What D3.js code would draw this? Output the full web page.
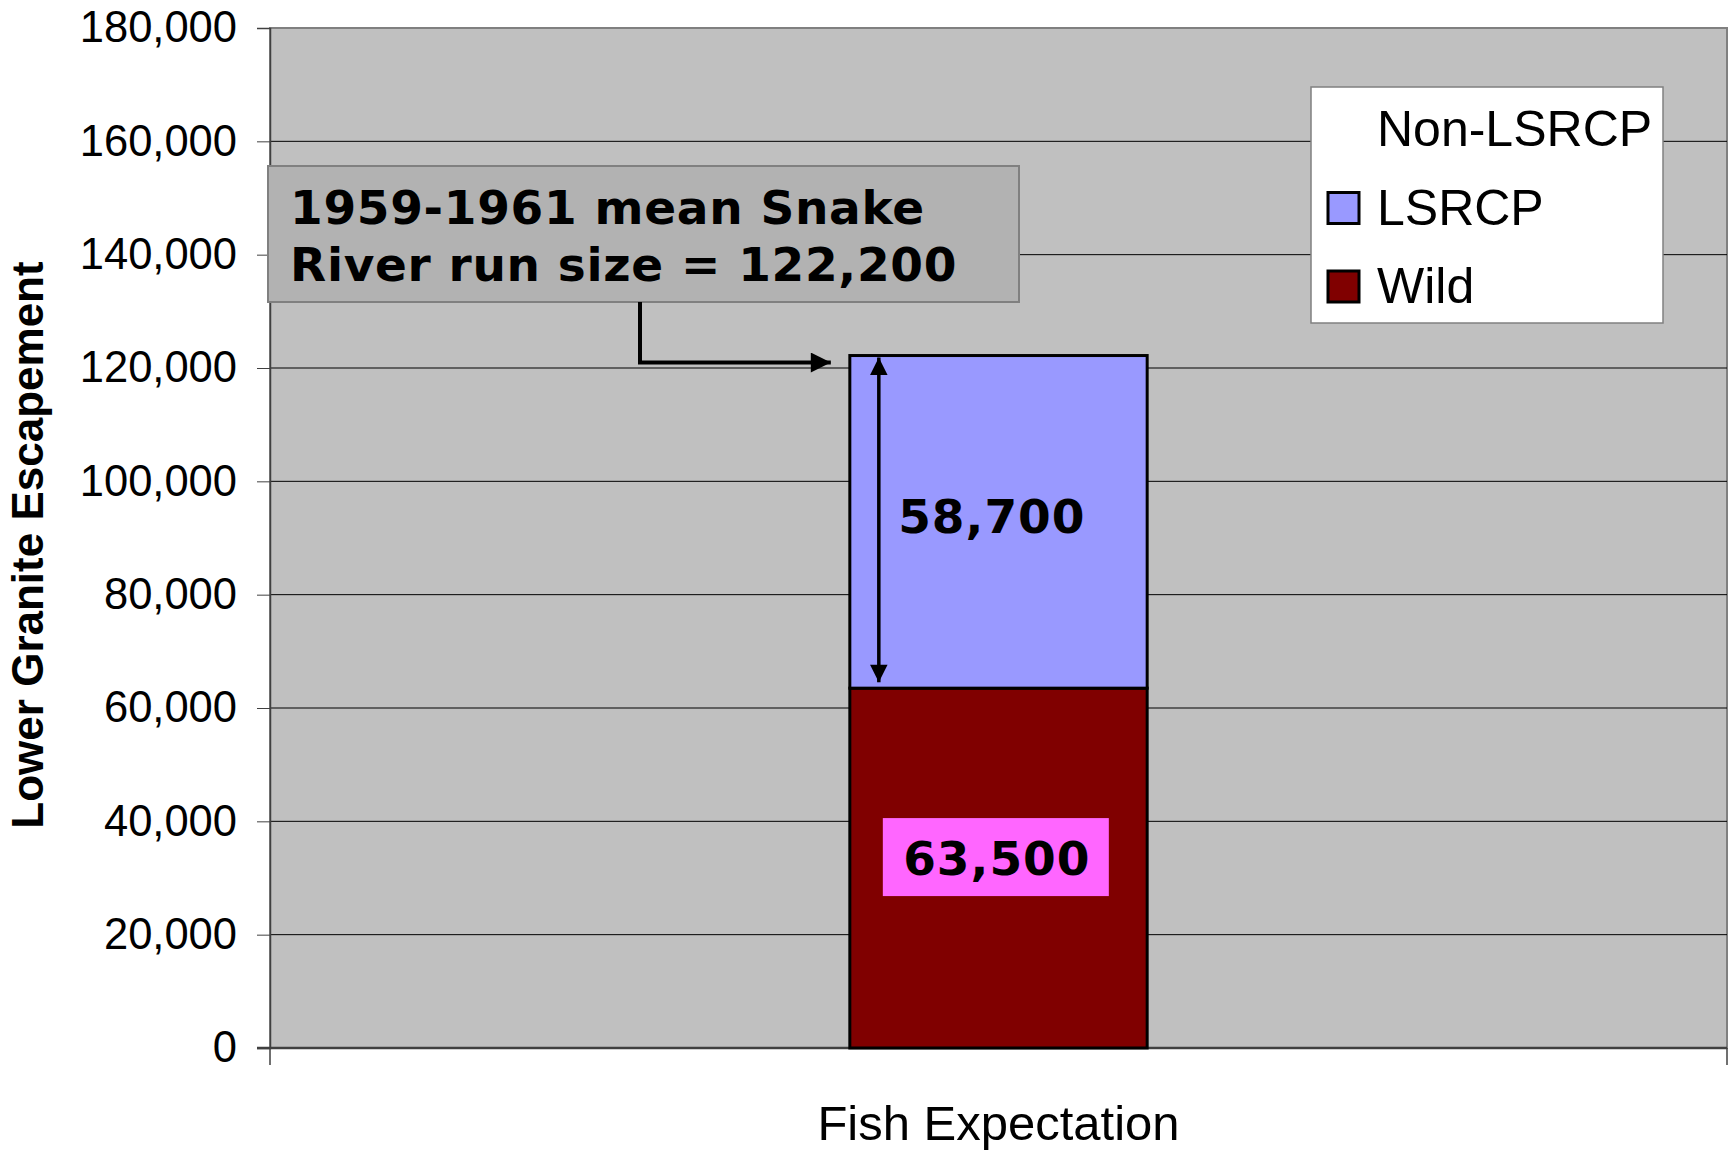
<!DOCTYPE html>
<html>
<head>
<meta charset="utf-8">
<script src="https://cdn.jsdelivr.net/npm/d3@7"></script>
<style>
  body { margin: 0; background: #fff; }
  svg { display: block; }
  .tick text { font-family: "Liberation Sans", Arial, sans-serif; }
</style>
</head>
<body>
<script>
// data
const categories = ["Fish Expectation"];
const seriesNames = ["Wild", "LSRCP", "Non-LSRCP"];
const seriesValues = [63500, 58700, 0];
const seriesColors = ["#800000", "#9999ff", "none"];
const yTicks = [0, 20000, 40000, 60000, 80000, 100000, 120000, 140000, 160000, 180000];
const runSize = 122200;
const calloutLines = ["1959-1961 mean Snake", "River run size = 122,200"];

const w = 1728, h = 1152;
const plotLeft = 270, plotRight = 1727, plotTop = 28, plotBottom = 1048;

const svg = d3.select("body").append("svg")
  .attr("width", w)
  .attr("height", h);

const x = d3.scaleBand()
  .domain(categories)
  .range([plotLeft, plotRight])
  .paddingOuter(1.95);

const y = d3.scaleLinear()
  .domain([0, 180000])
  .range([plotBottom, plotTop]);

// plot area
svg.append("rect")
  .attr("x", plotLeft).attr("y", plotTop)
  .attr("width", plotRight - plotLeft).attr("height", plotBottom - plotTop)
  .attr("fill", "#c0c0c0")
  .attr("stroke", "#808080")
  .attr("stroke-width", 2);

// gridlines
svg.append("g")
  .selectAll("line")
  .data(yTicks.filter(d => d > 0 && d < 180000))
  .enter()
  .append("line")
  .attr("x1", plotLeft).attr("x2", plotRight)
  .attr("y1", d => y(d)).attr("y2", d => y(d))
  .attr("stroke", "#000")
  .attr("stroke-width", 1);

// y axis
const y_axis = d3.axisLeft(y)
  .tickValues(yTicks)
  .tickFormat(d3.format(","))
  .tickSize(13)
  .tickPadding(20);

const gy = svg.append("g")
  .attr("transform", `translate(${plotLeft},0)`)
  .call(y_axis);
gy.select(".domain").attr("stroke", "#404040").attr("stroke-width", 1.5);
gy.selectAll(".tick line").attr("stroke", "#404040");
gy.selectAll(".tick text")
  .attr("font-size", 43.5)
  .attr("fill", "#000");

// bottom axis line and category-edge ticks
svg.append("line")
  .attr("x1", plotLeft - 13).attr("x2", plotRight)
  .attr("y1", plotBottom).attr("y2", plotBottom)
  .attr("stroke", "#404040").attr("stroke-width", 2.5);
svg.append("g")
  .selectAll("line")
  .data(x.range())
  .enter()
  .append("line")
  .attr("x1", d => d).attr("x2", d => d)
  .attr("y1", plotBottom).attr("y2", plotBottom + 17)
  .attr("stroke", "#404040").attr("stroke-width", 1.5);

// stacked bar
const row = { category: categories[0] };
seriesNames.forEach((s, i) => row[s] = seriesValues[i]);
const stacked = d3.stack().keys(seriesNames)([row]);

svg.append("g")
  .selectAll("rect")
  .data(stacked.filter(s => seriesColors[s.index] !== "none"))
  .enter()
  .append("rect")
  .attr("x", s => x(s[0].data.category))
  .attr("width", x.bandwidth())
  .attr("y", s => y(s[0][1]))
  .attr("height", s => y(s[0][0]) - y(s[0][1]))
  .attr("fill", s => seriesColors[s.index])
  .attr("stroke", "#000")
  .attr("stroke-width", 3);

const barX = x(categories[0]);
const wildTop = y(seriesValues[0]);
const barTop = y(runSize);

// arrow markers
const defs = svg.append("defs");
defs.append("marker")
  .attr("id", "head")
  .attr("viewBox", "0 0 10 10")
  .attr("refX", 10).attr("refY", 5)
  .attr("markerWidth", 5.5).attr("markerHeight", 5)
  .attr("markerUnits", "strokeWidth")
  .attr("orient", "auto-start-reverse")
  .append("path")
  .attr("d", "M0,0 L10,5 L0,10 Z")
  .attr("fill", "#000");

// double arrow across LSRCP segment
svg.append("line")
  .attr("x1", barX + 29).attr("x2", barX + 29)
  .attr("y1", barTop + 2).attr("y2", wildTop - 6)
  .attr("stroke", "#000").attr("stroke-width", 3.5)
  .attr("marker-start", "url(#head)")
  .attr("marker-end", "url(#head)");

// segment labels
const boldLabel = sel => sel
  .attr("font-family", "DejaVu Sans, Verdana, sans-serif")
  .attr("font-weight", "bold")
  .attr("font-size", 47)
  .attr("letter-spacing", 1)
  .attr("fill", "#000");

svg.append("text")
  .attr("x", barX + 142).attr("y", (barTop + wildTop) / 2 + 11)
  .attr("text-anchor", "middle")
  .call(boldLabel)
  .text(d3.format(",")(seriesValues[1]));

const wildMid = (wildTop + plotBottom) / 2;
svg.append("rect")
  .attr("x", barX + 33).attr("y", wildMid - 50)
  .attr("width", 226).attr("height", 78)
  .attr("fill", "#ff66ff");
svg.append("text")
  .attr("x", barX + 147).attr("y", wildMid + 7)
  .attr("text-anchor", "middle")
  .call(boldLabel)
  .text(d3.format(",")(seriesValues[0]));

// callout
const callout = svg.append("g");
callout.append("rect")
  .attr("x", 268).attr("y", 166)
  .attr("width", 751).attr("height", 136)
  .attr("fill", "#b2b2b2")
  .attr("stroke", "#808080")
  .attr("stroke-width", 2);
callout.selectAll("text")
  .data(calloutLines)
  .enter()
  .append("text")
  .attr("x", 290)
  .attr("y", (d, i) => 224 + i * 57)
  .call(boldLabel)
  .attr("letter-spacing", 0.7)
  .text(d => d);

svg.append("path")
  .attr("d", `M640,302 V${barTop + 7} H${barX - 19}`)
  .attr("fill", "none")
  .attr("stroke", "#000")
  .attr("stroke-width", 4)
  .attr("marker-end", "url(#head)");

// legend
const legend = svg.append("g").attr("id", "legend");
legend.append("rect")
  .attr("x", 1311).attr("y", 87)
  .attr("width", 352).attr("height", 236)
  .attr("fill", "#fff")
  .attr("stroke", "#808080")
  .attr("stroke-width", 1.5);

const legendOrder = seriesNames.map((s, i) => i).reverse();
legendOrder.forEach((i, k) => {
  const yy = 146 + k * 78.5;
  if (seriesColors[i] !== "none") {
    legend.append("rect")
      .attr("x", 1328).attr("y", yy - 32)
      .attr("width", 31).attr("height", 31)
      .attr("fill", seriesColors[i])
      .attr("stroke", "#000")
      .attr("stroke-width", 3);
  }
  legend.append("text")
    .attr("x", 1377).attr("y", yy)
    .attr("font-family", "Liberation Sans, Arial, sans-serif")
    .attr("font-size", 50)
    .attr("fill", "#000")
    .text(seriesNames[i]);
});

// axis titles
svg.append("text")
  .attr("x", (plotLeft + plotRight) / 2).attr("y", 1140)
  .attr("text-anchor", "middle")
  .attr("font-family", "Liberation Sans, Arial, sans-serif")
  .attr("font-size", 49)
  .text(categories[0]);

svg.append("text")
  .attr("transform", `translate(43, 545) rotate(-90)`)
  .attr("text-anchor", "middle")
  .attr("font-family", "Liberation Sans, Arial, sans-serif")
  .attr("font-weight", "bold")
  .attr("font-size", 44)
  .text("Lower Granite Escapement");
</script>
</body>
</html>
